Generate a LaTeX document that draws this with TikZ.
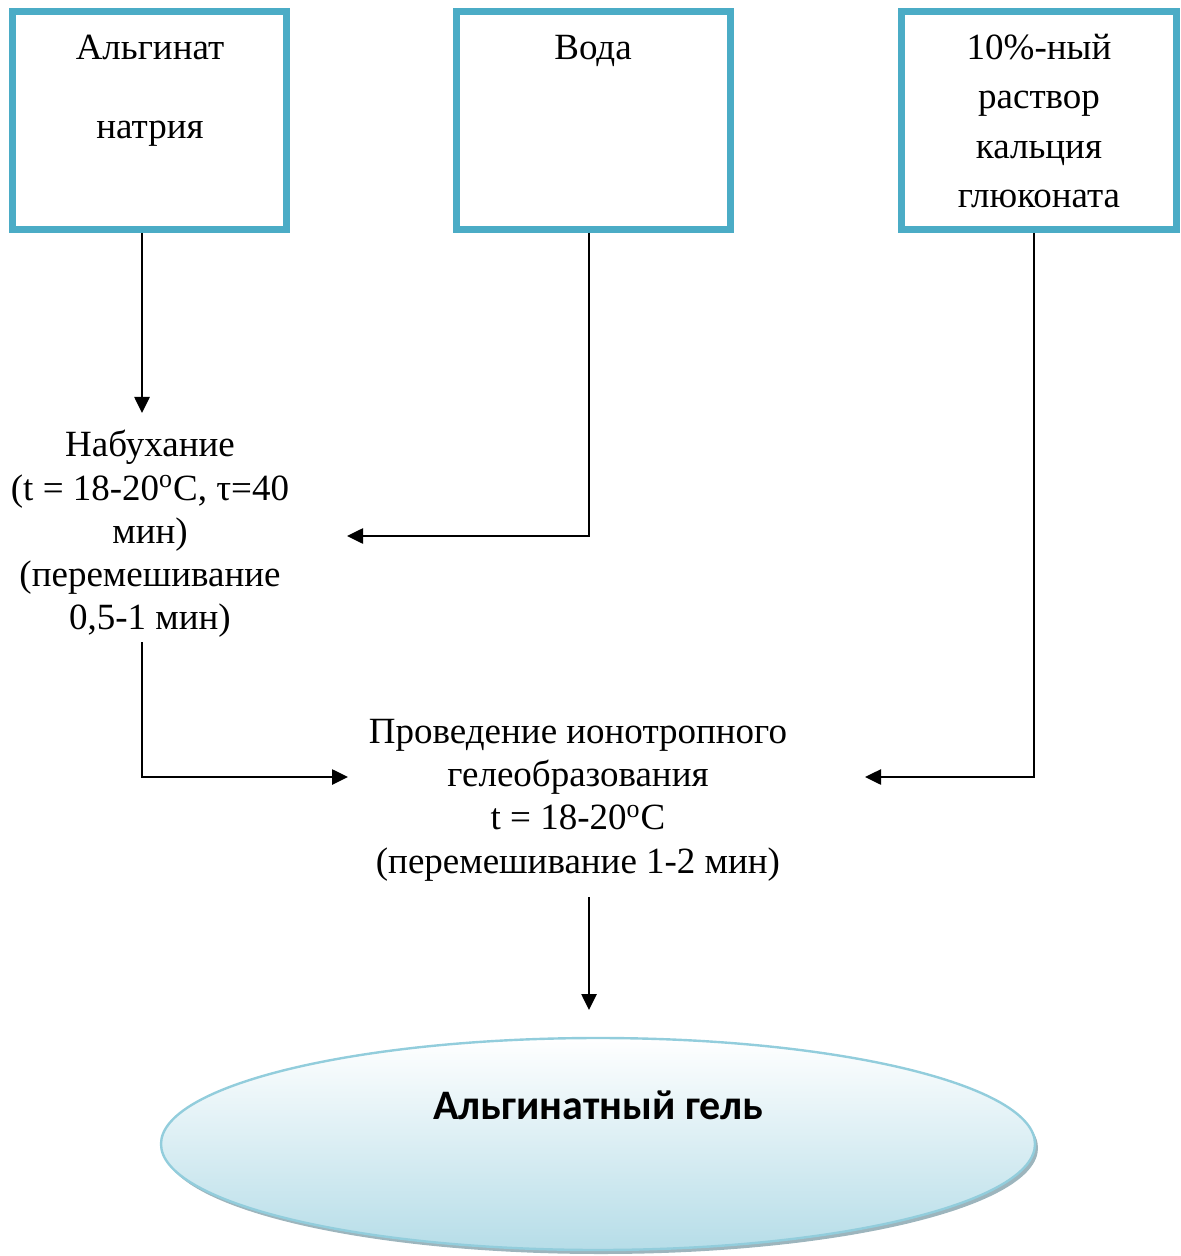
\documentclass[tikz,border=0pt]{standalone}
\usepackage{fontspec}
\setmainfont{Liberation Serif}
\newfontfamily\calibfont{Carlito}
\usetikzlibrary{arrows.meta,shadings}
\definecolor{boxblue}{HTML}{4BACC6}
\definecolor{ellline}{HTML}{92CDDC}
\definecolor{ellbot}{HTML}{B6DDE8}
\definecolor{ellshadow}{HTML}{9DB5BD}
\begin{document}
\begin{tikzpicture}[x=0.5pt,y=-0.5pt,
  inbox/.style={draw=boxblue,line width=3.5pt,inner sep=0pt,minimum width=137pt,minimum height=109pt},
  txt/.style={inner sep=0pt,align=center,font=\fontsize{18.5pt}{21.65pt}\selectfont},
  link/.style={line width=1.3pt,-{Triangle[length=8pt,width=7.5pt]}}]
\useasboundingbox (0,0) rectangle (1181,1256);
% boxes
\node[inbox] (b1) at (149.5,120.5) {};
\node[inbox,minimum width=136.75pt] (b2) at (593.25,120.5) {};
\node[inbox,minimum width=137.5pt] (b3) at (1039,120.5) {};
\node[txt,font=\fontsize{18.5pt}{39.5pt}\selectfont] (t1) at (150,91) {Альгинат\\ натрия};
\node[txt,anchor=base] (t2) at (593,60) {Вода};
\node[txt,font=\fontsize{18.5pt}{24.75pt}\selectfont] (t3) at (1039,121) {10\%-ный\\ раствор\\ кальция\\ глюконата};
% steps
\node[txt] (swell) at (150,534) {Набухание\\ (t = 18-20\textsuperscript{o}C, τ=40\\ мин)\\ (перемешивание\\ 0,5-1 мин)};
\node[txt] (gel) at (578,800) {Проведение ионотропного\\ гелеобразования\\ t = 18-20\textsuperscript{o}C\\ (перемешивание 1-2 мин)};
% ellipse
\fill[ellshadow] (601,1148) ellipse [x radius=437,y radius=106];
\shade[top color=white,bottom color=ellbot,draw=ellline,line width=1.2pt] (598,1144) ellipse [x radius=437,y radius=106];
\node[inner sep=0pt,anchor=base,font=\calibfont\bfseries\fontsize{21pt}{25pt}\selectfont] (res) at (598,1119) {Альгинатный гель};
% arrow end coordinates
\coordinate (a1) at (142,413);
\coordinate (a2) at (347,536);
\coordinate (a3) at (348,777);
\coordinate (a4) at (865,777);
\coordinate (a5) at (589,1010);
\coordinate (s1) at (142,642);
\coordinate (s2) at (589,897);
% connectors
\draw[link] (b1.south -| a1) -- (a1);
\draw[link] (b2.south -| 589,0) -- (589,536) -- (a2);
\draw[link] (b3.south -| 1034,0) -- (1034,777) -- (a4);
\draw[link] (s1) -- (142,777) -- (a3);
\draw[link] (s2) -- (a5);
\end{tikzpicture}
\end{document}
